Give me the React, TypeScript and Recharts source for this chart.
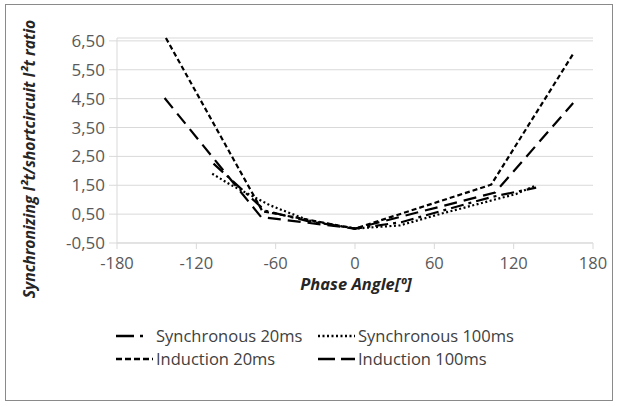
import { LineChart, Line, XAxis, YAxis, CartesianGrid } from "recharts";

// phase angle [deg] / ratio pairs
const ind20X = [-143, -70, 0, 103, 165];
const ind20Y = [6.6, 0.6, 0, 1.52, 6.05];

const ind100X = [-144, -71, 0, 106, 165];
const ind100Y = [4.52, 0.4, 0, 1.25, 4.35];

const sync20X = [-107, -68, -35, 0, 35, 84, 104, 137];
const sync20Y = [2.25, 0.62, 0.25, 0, 0.22, 0.85, 1.1, 1.42];

const sync100X = [-108, -95, -64, -35, 0, 34, 64, 122, 137];
const sync100Y = [1.9, 1.54, 0.8, 0.28, 0, 0.11, 0.5, 1.2, 1.5];

const xTicks = [-180, -120, -60, 0, 60, 120, 180];
const yTicks = [-0.5, 0.5, 1.5, 2.5, 3.5, 4.5, 5.5, 6.5];

const toPoints = (xs: number[], ys: number[]) => xs.map((x, i) => ({ x, y: ys[i] }));

const FONT = "'Open Sans', sans-serif";
const INK = "#000";

const series = [
  { name: "Synchronous 20ms", data: toPoints(sync20X, sync20Y), dash: "13 5 3 5", legendDash: "18 6 3 20" },
  { name: "Synchronous 100ms", data: toPoints(sync100X, sync100Y), dash: "2 2.5", legendDash: "2 2.5" },
  { name: "Induction 20ms", data: toPoints(ind20X, ind20Y), dash: "5 3", legendDash: "6 3" },
  { name: "Induction 100ms", data: toPoints(ind100X, ind100Y), dash: "13 7", legendDash: "17 6" },
];

function LegendItem({ name, dash, left, top }: { name: string; dash: string; left: number; top: number }) {
  return (
    <div style={{ position: "absolute", left, top, display: "flex", alignItems: "center", whiteSpace: "nowrap" }}>
      <svg width={37} height={10} style={{ marginRight: 3 }}>
        <line x1={0} y1={5} x2={37} y2={5} stroke={INK} strokeWidth={2.4} strokeDasharray={dash} />
      </svg>
      <span style={{ fontFamily: FONT, fontSize: 16.5, color: "#404040" }}>{name}</span>
    </div>
  );
}

export default function App() {
  return (
    <div style={{ position: "absolute", left: 0, top: 0, width: 619, height: 407, background: "#fff" }}>
      <div
        style={{
          position: "absolute",
          left: 5,
          top: 4,
          width: 608,
          height: 397,
          border: "1px solid #8a8a8a",
          boxSizing: "border-box",
        }}
      />
      <LineChart width={619} height={407} margin={{ top: 38, right: 26, left: 0, bottom: 0 }}>
        <CartesianGrid vertical={false} stroke="#d9d9d9" />
        <XAxis
          type="number"
          dataKey="x"
          domain={[-180, 180]}
          ticks={xTicks}
          height={164}
          stroke="#d9d9d9"
          tickSize={6}
          tickMargin={8}
          tick={{ fontFamily: FONT, fontSize: 16.5, fill: "#595959" }}
          allowDuplicatedCategory={false}
        />
        <YAxis
          type="number"
          dataKey="y"
          domain={[-0.5, 6.5]}
          ticks={yTicks}
          width={117}
          stroke="#d9d9d9"
          tickSize={8}
          tickMargin={4}
          tickFormatter={(v: number) => v.toFixed(2).replace(".", ",")}
          tick={{ fontFamily: FONT, fontSize: 17, fill: "#595959" }}
        />
        {series.map((s) => (
          <Line
            key={s.name}
            data={s.data}
            dataKey="y"
            name={s.name}
            type="linear"
            stroke={INK}
            strokeWidth={2.2}
            strokeDasharray={s.dash}
            dot={false}
            activeDot={false}
            isAnimationActive={false}
          />
        ))}
      </LineChart>
      <div
        style={{
          position: "absolute",
          left: 29,
          top: 159,
          transform: "translate(-50%, -50%) rotate(-90deg)",
          whiteSpace: "nowrap",
          fontFamily: FONT,
          fontSize: 15.7,
          fontWeight: 700,
          fontStyle: "italic",
          color: "#262626",
        }}
      >
        Synchronizing I²t/shortcircuit I²t ratio
      </div>
      <div
        style={{
          position: "absolute",
          left: 356,
          top: 283,
          transform: "translate(-50%, -50%)",
          whiteSpace: "nowrap",
          fontFamily: FONT,
          fontSize: 16.5,
          fontWeight: 700,
          fontStyle: "italic",
          color: "#262626",
        }}
      >
        Phase Angle[º]
      </div>
      <LegendItem name={series[0].name} dash={series[0].legendDash} left={116} top={324} />
      <LegendItem name={series[1].name} dash={series[1].legendDash} left={318} top={324} />
      <LegendItem name={series[2].name} dash={series[2].legendDash} left={116} top={347} />
      <LegendItem name={series[3].name} dash={series[3].legendDash} left={318} top={347} />
    </div>
  );
}
